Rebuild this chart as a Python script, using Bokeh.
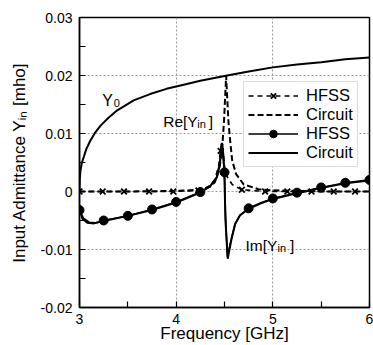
from bokeh.plotting import figure
from bokeh.models import (Range1d, FixedTicker, CustomJSTickFormatter, Label,
                          Legend, LegendItem)
from bokeh.embed import file_html
from bokeh.resources import INLINE

# ---------------- data ----------------
# Characteristic admittance Y0
y0_freq = [3.0, 3.003, 3.01, 3.025, 3.045, 3.07, 3.11, 3.16, 3.22, 3.3, 3.39,
           3.48, 3.56, 3.73, 3.9, 4.1, 4.25, 4.5, 4.75, 5.0, 5.25, 5.5, 5.75, 6.0]
y0_val = [0.0, 0.0022, 0.0036, 0.0050, 0.0060, 0.0073, 0.0087, 0.0101, 0.0114,
          0.0127, 0.0140, 0.0149, 0.0157, 0.0168, 0.0177, 0.0185, 0.0191,
          0.0199, 0.0207, 0.0214, 0.0219, 0.0223, 0.0228, 0.0231]

# Re[Yin] - HFSS (dashed, x markers)
re_hfss_freq = [3.0, 3.24, 3.46, 3.72, 3.97, 4.23, 4.33, 4.40, 4.44, 4.47,
                4.49, 4.51, 4.58, 4.68, 4.92, 5.15, 5.40, 5.63, 5.85, 6.0]
re_hfss_val = [0.0, 0.0, 0.0, 0.0, 0.0, 0.0002, 0.0008, 0.0020, 0.0045,
               0.0083, 0.0060, 0.0030, 0.0012, 0.0003, 0.0, 0.0, 0.0, 0.0,
               0.0, 0.0]
re_hfss_mark_freq = [3.0, 3.24, 3.46, 3.72, 3.97, 4.23, 4.46, 4.68, 4.92,
                     5.15, 5.40, 5.63, 5.85]
re_hfss_mark_val = [0.0, 0.0, 0.0, 0.0, 0.0, 0.0002, 0.0070, 0.0003, 0.0,
                    0.0, 0.0, 0.0, 0.0]

# Re[Yin] - Circuit (dashed)
re_ckt_freq = [3.0, 3.5, 4.0, 4.25, 4.35, 4.40, 4.44, 4.46, 4.48, 4.495,
               4.517, 4.54, 4.56, 4.58, 4.62, 4.7, 4.85, 5.0, 5.5, 6.0]
re_ckt_val = [0.0, 0.0, 0.0001, 0.0003, 0.0008, 0.0016, 0.0035, 0.0053,
              0.0085, 0.0122, 0.0199, 0.0122, 0.0085, 0.0053, 0.0030, 0.0012,
              0.0004, 0.0002, 0.0, 0.0]

# Im[Yin] - HFSS (solid, dot markers)
im_hfss_freq = [3.0, 3.04, 3.1, 3.17, 3.25, 3.5, 3.75, 4.0, 4.25, 4.35, 4.42,
                4.45, 4.47, 4.485, 4.5, 4.51, 4.53, 4.57, 4.61, 4.66, 4.75,
                4.87, 5.0, 5.25, 5.5, 5.75, 6.0]
im_hfss_val = [-0.0032, -0.0046, -0.0053, -0.0054, -0.0050, -0.0042, -0.0031,
               -0.0018, -0.0001, 0.0009, 0.0025, 0.0050, 0.0083, 0.0060,
               0.0033, -0.0040, -0.0112, -0.0082, -0.0056, -0.0041, -0.0029,
               -0.0020, -0.0012, -0.0002, 0.0007, 0.0015, 0.0020]
im_hfss_mark_freq = [3.0, 3.25, 3.5, 3.75, 4.0, 4.25, 4.5, 4.75, 5.0, 5.25,
                     5.5, 5.75, 6.0]
im_hfss_mark_val = [-0.0032, -0.0050, -0.0042, -0.0031, -0.0018, -0.0001,
                    0.0033, -0.0029, -0.0012, -0.0002, 0.0007, 0.0015, 0.0020]

# Im[Yin] - Circuit (solid)
im_ckt_freq = [3.0, 3.03, 3.08, 3.15, 3.25, 3.5, 3.75, 4.0, 4.25, 4.35, 4.42,
               4.45, 4.475, 4.49, 4.50, 4.51, 4.533, 4.57, 4.61, 4.66, 4.75,
               4.87, 5.0, 5.25, 5.5, 5.75, 6.0]
im_ckt_val = [-0.0030, -0.0047, -0.0054, -0.0055, -0.0051, -0.0042, -0.0032,
              -0.0019, -0.0002, 0.0009, 0.0024, 0.0045, 0.0084, 0.0060,
              0.0020, -0.0050, -0.0116, -0.0084, -0.0056, -0.0041, -0.0030,
              -0.0021, -0.0013, -0.0003, 0.0006, 0.0014, 0.0019]

x_tick_vals = [3, 4, 5, 6]
x_tick_labels = ["3", "4", "5", "6"]
x_minor_vals = [3.5, 4.5, 5.5]
y_tick_vals = [-0.02, -0.01, 0.0, 0.01, 0.02, 0.03]
y_tick_labels = ["-0.02", "-0.01", "0", "0.01", "0.02", "0.03"]
y_minor_vals = [-0.015, -0.005, 0.005, 0.015, 0.025]

legend_labels = ["HFSS", "Circuit", "HFSS", "Circuit"]
x_title = "Frequency [GHz]"
y_title = "Input Admittance Y\u1d62\u2099 [mho]"

FONT = "Liberation Sans"

# ---------------- figure ----------------
p = figure(width=373, height=345, output_backend="svg", toolbar_location=None,
           x_range=Range1d(3, 6), y_range=Range1d(-0.02, 0.03),
           min_border_left=79, min_border_right=4, min_border_top=17,
           min_border_bottom=38)
p.background_fill_color = "white"
p.border_fill_color = "white"
p.outline_line_color = "black"
p.outline_line_width = 1.5

xt = FixedTicker(ticks=x_tick_vals, minor_ticks=x_minor_vals)
yt = FixedTicker(ticks=y_tick_vals, minor_ticks=y_minor_vals)
p.xaxis.ticker = xt
p.yaxis.ticker = yt
p.xgrid.ticker = xt
p.ygrid.ticker = yt

fmt_code = """
const i = vals.findIndex(v => Math.abs(v - tick) < 1e-9);
return i >= 0 ? labs[i] : '';
"""
p.xaxis.formatter = CustomJSTickFormatter(args=dict(vals=x_tick_vals, labs=x_tick_labels), code=fmt_code)
p.yaxis.formatter = CustomJSTickFormatter(args=dict(vals=y_tick_vals, labs=y_tick_labels), code=fmt_code)

for ax in (p.xaxis[0], p.yaxis[0]):
    ax.major_tick_in = 6
    ax.major_tick_out = 0
    ax.minor_tick_in = 6
    ax.minor_tick_out = 0
    ax.axis_line_width = 1.5
    ax.major_tick_line_width = 1.2
    ax.minor_tick_line_width = 1.2
    ax.major_label_text_font = FONT
    ax.major_label_text_font_size = "14px"
    ax.major_label_text_color = "black"
    ax.axis_label_text_font = FONT
    ax.axis_label_text_font_size = "17px"
    ax.axis_label_text_font_style = "normal"
    ax.axis_label_text_color = "black"
p.xaxis.axis_label = x_title
p.yaxis.axis_label = y_title
p.yaxis.major_label_standoff = 7
p.yaxis.axis_label_standoff = 9
p.xaxis.major_label_standoff = 6
p.xaxis.axis_label_standoff = -3

for g in (p.xgrid[0], p.ygrid[0]):
    g.grid_line_color = "#999999"
    g.grid_line_dash = "2 2"
    g.grid_line_width = 1

# ---------------- curves ----------------
p.line(y0_freq, y0_val, line_color="black", line_width=2)

r_re_ckt = p.line(re_ckt_freq, re_ckt_val, line_color="black", line_width=2,
                  line_dash="6 3")
r_re_hfss_l = p.line(re_hfss_freq, re_hfss_val, line_color="black",
                     line_width=1.6, line_dash="5 4")
r_re_hfss_m = p.scatter(re_hfss_mark_freq, re_hfss_mark_val, marker="x",
                        size=8, line_color="black", line_width=1.8)

r_im_ckt = p.line(im_ckt_freq, im_ckt_val, line_color="black", line_width=2)
r_im_hfss_l = p.line(im_hfss_freq, im_hfss_val, line_color="black",
                     line_width=1.6)
r_im_hfss_m = p.scatter(im_hfss_mark_freq, im_hfss_mark_val, marker="circle",
                        size=9, line_color="black", fill_color="black")

# ---------------- legend ----------------
legend = Legend(items=[
    LegendItem(label=legend_labels[0], renderers=[r_re_hfss_l, r_re_hfss_m]),
    LegendItem(label=legend_labels[1], renderers=[r_re_ckt]),
    LegendItem(label=legend_labels[2], renderers=[r_im_hfss_l, r_im_hfss_m]),
    LegendItem(label=legend_labels[3], renderers=[r_im_ckt]),
], location=(164, 140))
legend.glyph_width = 50
legend.glyph_height = 19
legend.label_height = 19
legend.spacing = 0
legend.padding = 4
legend.margin = 0
legend.label_standoff = 8
legend.label_text_font = FONT
legend.label_text_font_size = "16.5px"
legend.label_text_color = "black"
legend.border_line_color = "#b8b8b8"
legend.border_line_width = 1.5
legend.background_fill_color = "white"
legend.background_fill_alpha = 1.0
p.add_layout(legend, "center")

# ---------------- text annotations ----------------
def lab(text, x, y, size, **kw):
    p.add_layout(Label(x=x, y=y, text=text, text_font=FONT,
                       text_font_size=size, text_color="black",
                       text_baseline="alphabetic", **kw))

# Y0
lab("Y", 3.235, 0.0157, "16px")
lab("0", 3.235, 0.0157, "11px", x_offset=11.5, y_offset=-3)
# Re[Yin]
lab("Re[Y", 3.866, 0.01212, "15.5px")
lab("in", 3.866, 0.01212, "11px", x_offset=34, y_offset=-2.5)
lab("]", 3.866, 0.01212, "15.5px", x_offset=45.5)
# Im[Yin]
lab("Im[Y", 4.717, -0.00931, "15.5px")
lab("in", 4.717, -0.00931, "11px", x_offset=32, y_offset=-2.5)
lab("]", 4.717, -0.00931, "15.5px", x_offset=44.5)

open("out.html", "w").write(file_html(p, INLINE))
